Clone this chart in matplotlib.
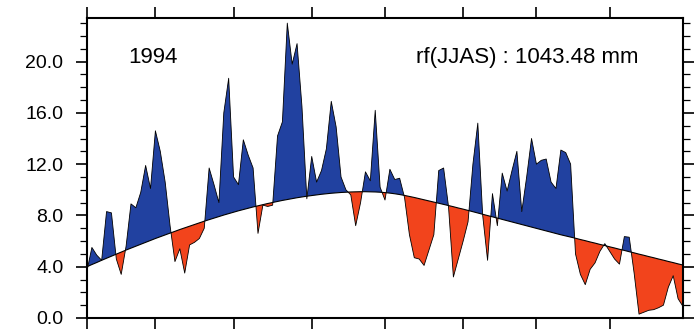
import numpy as np
import matplotlib
matplotlib.use("Agg")
import matplotlib.pyplot as plt
from matplotlib.ticker import MultipleLocator, NullFormatter, FormatStrFormatter

plt.rcParams['font.family'] = ['Liberation Sans', 'DejaVu Sans']

# daily rainfall (mm/day), JJAS 1994, day 0 .. 122
rainfall = [
    3.7, 5.5, 4.9, 4.5, 8.3, 8.2, 4.6, 3.4, 5.6, 8.9,
    8.6, 9.8, 11.9, 10.1, 14.6, 13.0, 10.6, 7.2, 4.4, 5.4,
    3.5, 5.7, 5.9, 6.2, 7.0, 11.7, 10.4, 9.0, 16.0, 18.7,
    11.0, 10.4, 13.9, 12.7, 11.7, 6.6, 8.8, 8.7, 8.8, 14.2,
    15.3, 23.0, 19.8, 21.4, 16.5, 9.3, 12.6, 10.6, 11.5, 13.2,
    16.9, 14.9, 11.0, 10.0, 9.6, 7.2, 9.0, 11.4, 10.7, 16.2,
    10.2, 9.2, 11.6, 10.8, 10.9, 9.4, 6.5, 4.7, 4.6, 4.1,
    5.3, 6.5, 11.5, 11.7, 8.7, 3.2, 4.6, 6.0, 7.5, 12.0,
    15.2, 8.0, 4.5, 9.7, 7.2, 11.3, 9.9, 11.5, 13.0, 8.3,
    11.0, 14.0, 12.0, 12.3, 12.4, 10.6, 10.1, 13.1, 12.9, 12.0,
    5.0, 3.4, 2.6, 3.8, 4.3, 5.2, 5.8, 5.2, 4.6, 4.2,
    6.35, 6.3, 3.5, 0.3, 0.45, 0.6, 0.65, 0.8, 1.0, 2.4,
    3.3, 1.5, 0.9,
]

# daily climatology (mm/day)
climatology = [
    4.00, 4.17, 4.33, 4.50, 4.66, 4.82, 4.98, 5.14, 5.30, 5.45,
    5.60, 5.75, 5.90, 6.05, 6.20, 6.34, 6.48, 6.62, 6.76, 6.90,
    7.03, 7.16, 7.29, 7.42, 7.55, 7.67, 7.79, 7.91, 8.03, 8.14,
    8.25, 8.36, 8.46, 8.56, 8.66, 8.75, 8.84, 8.93, 9.01, 9.09,
    9.17, 9.24, 9.31, 9.38, 9.44, 9.50, 9.55, 9.60, 9.65, 9.69,
    9.73, 9.76, 9.79, 9.81, 9.83, 9.84, 9.85, 9.85, 9.84, 9.83,
    9.81, 9.78, 9.74, 9.69, 9.63, 9.56, 9.48, 9.40, 9.31, 9.22,
    9.13, 9.04, 8.95, 8.86, 8.77, 8.68, 8.58, 8.49, 8.39, 8.29,
    8.19, 8.09, 7.99, 7.89, 7.79, 7.69, 7.59, 7.49, 7.39, 7.29,
    7.19, 7.09, 6.99, 6.89, 6.79, 6.69, 6.59, 6.49, 6.40, 6.31,
    6.22, 6.12, 6.03, 5.93, 5.84, 5.74, 5.65, 5.55, 5.46, 5.36,
    5.27, 5.17, 5.08, 4.98, 4.89, 4.79, 4.70, 4.60, 4.51, 4.41,
    4.32, 4.22, 4.13,
]

year_label = "1994"
total_label = "rf(JJAS) : 1043.48 mm"
day_ticks = [0, 14, 30, 46, 61, 77, 92, 107]

days = np.arange(len(rainfall))
rf = np.array(rainfall)
clim = np.array(climatology)

fig = plt.figure(figsize=(6.95, 3.32), dpi=100)
ax = fig.add_axes([0.1252, 0.0422, 0.8575, 0.9036])

# above normal in blue, below normal in red
ax.fill_between(days, clim, rf, where=rf >= clim, interpolate=True,
                color="#2141a0", linewidth=0)
ax.fill_between(days, clim, rf, where=rf <= clim, interpolate=True,
                color="#f2441c", linewidth=0)
ax.plot(days, rf, color="black", linewidth=0.6)
ax.plot(days, clim, color="black", linewidth=0.8)

ax.set_xlim(0, 122)
ax.set_ylim(0, 23.4)

ax.set_xticks(day_ticks)
ax.xaxis.set_major_formatter(NullFormatter())
ax.yaxis.set_major_locator(MultipleLocator(4))
ax.yaxis.set_minor_locator(MultipleLocator(1))
ax.yaxis.set_major_formatter(FormatStrFormatter("%.1f"))

ax.tick_params(axis="x", which="major", direction="out", length=8, width=1.2,
               top=True, bottom=True)
ax.tick_params(axis="y", which="major", direction="out", length=8, width=1.2,
               left=True, right=True, labelsize=14, pad=9)
ax.tick_params(axis="y", which="minor", direction="out", length=5, width=0.9,
               left=True, right=True)
for s in ax.spines.values():
    s.set_linewidth(1.5)

ax.text(13.5, 20.3, year_label, fontsize=16, ha="center", va="center")
ax.text(112.8, 20.3, total_label, fontsize=16, ha="right", va="center")

fig.savefig("out.png", dpi=100)
